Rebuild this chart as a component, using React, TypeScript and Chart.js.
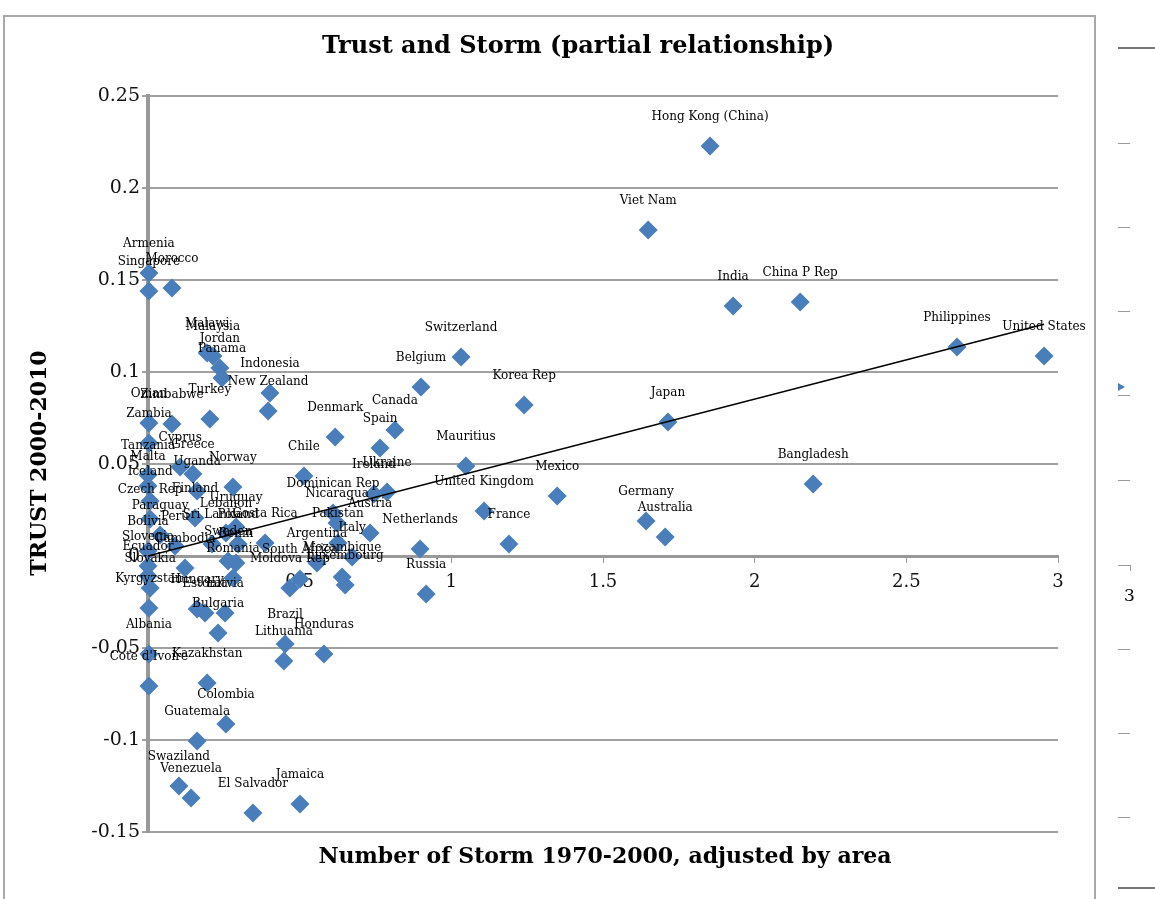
import React, { useEffect, useRef } from 'react';
import { Chart, registerables } from 'chart.js';

Chart.register(...registerables);

const chartTitle = 'Trust and Storm (partial relationship)';
const xTitle = 'Number of Storm 1970-2000, adjusted by area';
const yTitle = 'TRUST 2000-2010';

const countries = [
  'Hong Kong (China)', 'Viet Nam', 'India', 'China P Rep', 'Philippines', 'United States',
  'Switzerland', 'Belgium', 'Korea Rep', 'Japan', 'Bangladesh', 'Mexico', 'Germany', 'Australia',
  'Mauritius', 'United Kingdom', 'France', 'Netherlands', 'Russia', 'Canada', 'Spain', 'Denmark',
  'Chile', 'Ireland', 'Ukraine', 'Dominican Rep', 'Nicaragua', 'Austria', 'Pakistan', 'Italy',
  'Argentina', 'Mozambique', 'Luxembourg', 'South Africa', 'Moldova Rep', 'Armenia', 'Singapore',
  'Morocco', 'Malaysia', 'Malawi', 'Jordan', 'Panama', 'Indonesia', 'New Zealand', 'Turkey', 'Oman',
  'Zimbabwe', 'Zambia', 'Cyprus', 'Tanzania', 'Greece', 'Malta', 'Uganda', 'Norway', 'Iceland',
  'Czech Rep', 'Finland', 'Uruguay', 'Lebanon', 'Paraguay', 'Peru', 'Sri Lanka', 'Poland',
  'Costa Rica', 'Bolivia', 'Slovenia', 'Cambodia', 'Ecuador', 'Slovakia', 'Sweden', 'Benin',
  'Romania', 'Kyrgyzstan', 'Hungary', 'Estonia', 'Latvia', 'Bulgaria', 'Albania', "Cote d'Ivoire",
  'Kazakhstan', 'Colombia', 'Guatemala', 'Swaziland', 'Venezuela', 'El Salvador', 'Jamaica',
  'Brazil', 'Lithuania', 'Honduras',
];

const storm = [
  1.853, 1.649, 1.929, 2.150, 2.667, 2.954,
  1.032, 0.900, 1.240, 1.714, 2.193, 1.349, 1.642, 1.705,
  1.048, 1.108, 1.190, 0.897, 0.917, 0.814, 0.765, 0.617,
  0.514, 0.745, 0.788, 0.610, 0.623, 0.732, 0.626, 0.673,
  0.557, 0.640, 0.650, 0.501, 0.468, 0.003, 0.003,
  0.079, 0.214, 0.195, 0.237, 0.244, 0.402, 0.396, 0.204, 0.003,
  0.079, 0.003, 0.106, 0.000, 0.148, 0.000, 0.162, 0.280, 0.007,
  0.007, 0.155, 0.290, 0.257, 0.040, 0.089, 0.211, 0.297,
  0.386, 0.000, 0.000, 0.122, 0.000, 0.007, 0.264, 0.290,
  0.280, 0.003, 0.162, 0.188, 0.254, 0.231, 0.003, 0.003,
  0.195, 0.257, 0.162, 0.102, 0.142, 0.346, 0.501,
  0.452, 0.448, 0.580,
];

const trust = [
  0.2228, 0.1772, 0.1359, 0.1380, 0.1136, 0.1087,
  0.1082, 0.0918, 0.0821, 0.0728, 0.0391, 0.0326, 0.0190, 0.0103,
  0.0489, 0.0245, 0.0065, 0.0038, -0.0207, 0.0685, 0.0587, 0.0647,
  0.0435, 0.0337, 0.0348, 0.0234, 0.0179, 0.0125, 0.0071, -0.0005,
  -0.0038, -0.0114, -0.0158, -0.0125, -0.0174, 0.1538, 0.1440,
  0.1457, 0.1087, 0.1103, 0.1022, 0.0967, 0.0886, 0.0788, 0.0745, 0.0723,
  0.0717, 0.0614, 0.0484, 0.0440, 0.0446, 0.0380, 0.0353, 0.0375, 0.0299,
  0.0201, 0.0207, 0.0158, 0.0125, 0.0114, 0.0054, 0.0065, 0.0065,
  0.0071, 0.0027, -0.0054, -0.0065, -0.0109, -0.0174, -0.0027, -0.0038,
  -0.0120, -0.0283, -0.0288, -0.0310, -0.0310, -0.0418, -0.0533, -0.0707,
  -0.0690, -0.0913, -0.1005, -0.1250, -0.1315, -0.1397, -0.1348,
  -0.0478, -0.0571, -0.0533,
];

// linear trend line (start and end)
const trendX = [0, 2.954];
const trendY = [0.0, 0.126];

const xTickValues = [0, 0.5, 1, 1.5, 2, 2.5, 3];
const yTickValues = [-0.15, -0.1, -0.05, 0, 0.05, 0.1, 0.15, 0.2, 0.25];

const SERIF = '"DejaVu Serif", serif';

const decorPlugin = {
  id: 'decor',
  afterDraw(chart: any) {
    const ctx = chart.ctx;
    ctx.save();
    // outer chart border
    ctx.strokeStyle = '#a8a8a8';
    ctx.lineWidth = 2;
    ctx.strokeRect(4, 16, 1091, 900);

    // point labels
    const meta = chart.getDatasetMeta(0);
    ctx.fillStyle = '#000';
    ctx.textAlign = 'center';
    ctx.textBaseline = 'middle';
    ctx.font = '12px ' + SERIF;
    meta.data.forEach((pt: any, i: number) => {
      ctx.fillText(countries[i], pt.x, pt.y - 29);
    });

    // titles
    ctx.font = 'bold 24px ' + SERIF;
    ctx.fillText(chartTitle, 578, 47);
    ctx.font = 'bold 22px ' + SERIF;
    ctx.fillText(xTitle, 605, 857);
    ctx.save();
    ctx.translate(40, 463);
    ctx.rotate(-Math.PI / 2);
    ctx.font = 'bold 22px ' + SERIF;
    ctx.fillText(yTitle, 0, 0);
    ctx.restore();

    // remnants of a neighbouring chart at the right edge
    ctx.strokeStyle = '#777';
    ctx.lineWidth = 2;
    ctx.beginPath();
    ctx.moveTo(1118, 48); ctx.lineTo(1155, 48);
    ctx.moveTo(1118, 888); ctx.lineTo(1155, 888);
    ctx.stroke();
    ctx.strokeStyle = '#999';
    ctx.lineWidth = 1;
    ctx.beginPath();
    [143, 227, 311, 395, 480, 565, 649, 733, 817].forEach((y) => {
      ctx.moveTo(1118, y + 0.5); ctx.lineTo(1130, y + 0.5);
    });
    ctx.moveTo(1130.5, 565); ctx.lineTo(1130.5, 571);
    ctx.stroke();
    ctx.fillStyle = '#4A7EBB';
    ctx.beginPath();
    ctx.moveTo(1118, 383); ctx.lineTo(1125, 387); ctx.lineTo(1118, 391);
    ctx.closePath();
    ctx.fill();
    ctx.fillStyle = '#000';
    ctx.font = '17px ' + SERIF;
    ctx.textAlign = 'left';
    ctx.fillText('3', 1124, 597);
    ctx.restore();
  },
};

export default function App() {
  const ref = useRef<HTMLCanvasElement>(null);
  useEffect(() => {
    if (!ref.current) return;
    const points = storm.map((x, i) => ({ x, y: trust[i] }));
    const trend = trendX.map((x, i) => ({ x, y: trendY[i] }));
    const chart = new Chart(ref.current, {
      type: 'scatter',
      data: {
        datasets: [
          {
            data: points,
            pointStyle: 'rectRot',
            pointRadius: 9.5,
            pointBackgroundColor: '#4A7EBB',
            pointBorderColor: '#4A7EBB',
            pointBorderWidth: 0,
            clip: false,
            order: 1,
          } as any,
          {
            data: trend,
            showLine: true,
            borderColor: '#000',
            borderWidth: 1.5,
            pointRadius: 0,
            order: 0,
          } as any,
        ],
      },
      options: {
        animation: false,
        responsive: false,
        events: [],
        layout: { padding: { left: 60, right: 97, top: 96, bottom: 67 } },
        plugins: { legend: { display: false }, tooltip: { enabled: false }, title: { display: false } },
        scales: {
          x: {
            type: 'linear',
            min: 0,
            max: 3,
            position: { y: 0 } as any,
            afterBuildTicks: (s: any) => { s.ticks = xTickValues.map((v) => ({ value: v })); },
            afterFit: (s: any) => { s.height = 0; },
            grid: { drawOnChartArea: false, drawTicks: true, tickLength: 5, color: '#999', lineWidth: 1 },
            border: { display: true, color: '#999', width: 3 },
            ticks: {
              autoSkip: false,
              maxRotation: 0,
              padding: 11,
              color: '#111',
              font: { family: SERIF, size: 18 },
              callback: (v: any) => String(Math.round(Number(v) * 100) / 100),
            },
          },
          y: {
            type: 'linear',
            min: -0.15,
            max: 0.25,
            position: 'left',
            afterBuildTicks: (s: any) => { s.ticks = yTickValues.map((v) => ({ value: v })); },
            afterFit: (s: any) => { s.width = 88; },
            grid: { color: '#a0a0a0', lineWidth: 2, drawTicks: true, tickLength: 6 },
            border: { display: true, color: '#999', width: 4 },
            ticks: {
              autoSkip: false,
              padding: 2,
              color: '#111',
              font: { family: SERIF, size: 19 },
              callback: (v: any) => String(Math.round(Number(v) * 100) / 100),
            },
          },
        },
      } as any,
      plugins: [decorPlugin],
    });
    return () => chart.destroy();
  }, []);
  return (
    <div style={{ position: 'fixed', left: 0, top: 0, width: 1155, height: 899, background: '#fff' }}>
      <canvas ref={ref} width={1155} height={899} style={{ display: 'block' }} />
    </div>
  );
}
